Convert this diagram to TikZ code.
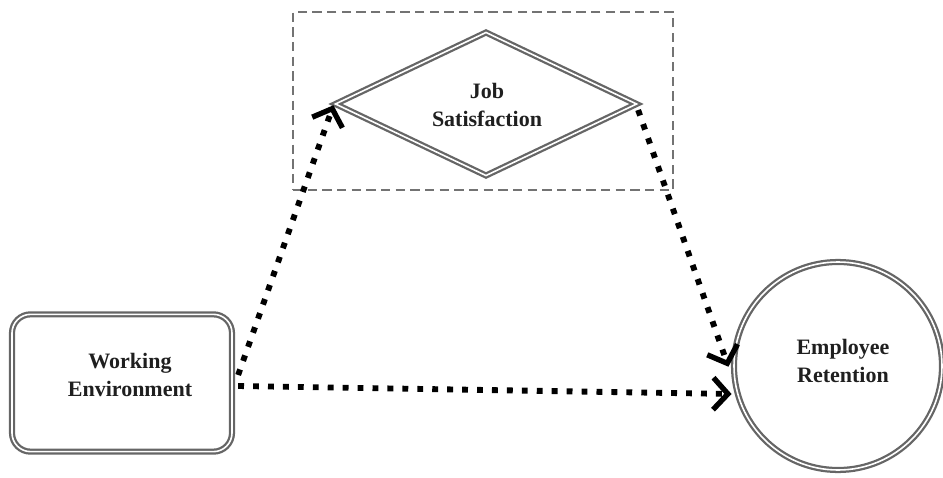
\documentclass[tikz,border=0pt]{standalone}
\usepackage{fontspec}
\setmainfont{Liberation Serif}
\usetikzlibrary{shapes.geometric,arrows.meta,calc}
\begin{document}
\begin{tikzpicture}[x=0.75pt,y=-0.75pt,
  dbl/.style={draw=black!60, line width=1.7pt, double=white, double distance=1.2pt},
  lbl/.style={font=\fontsize{16.5}{21.5}\selectfont\bfseries, align=center, text=black!88},
  flow/.style={line width=4.4pt, dash pattern=on 4.4pt off 6.8pt, black,
    -{Straight Barb[length=11pt,width=24pt,line width=4pt]}, shorten >=1pt},
  frame/.style={draw=black!55, line width=1.8pt, dash pattern=on 7pt off 4pt}]
\useasboundingbox (0,0) rectangle (943,478);
\node[frame, minimum width=285pt, minimum height=133.5pt, inner sep=0] (box) at (483,101) {};
\node[dbl, diamond, minimum width=226.5pt, minimum height=108pt, inner sep=0, aspect=2.1] (js) at (486,104) {};
\node[lbl] at (487,105) {Job\\Satisfaction};
\node[dbl, rounded corners=14pt, minimum width=165pt, minimum height=103pt] (we) at (122,383) {};
\node[lbl] at (130,375) {Working\\Environment};
\node[dbl, circle, minimum size=156pt, inner sep=0] (er) at (838,366) {};
\node[lbl] at (843,361) {Employee\\Retention};
\coordinate (s1) at ($(we.east)+(5,-8)$);
\coordinate (s3) at ($(we.east)+(5,3)$);
\coordinate (t3) at ($(er.west)+(0,28)$);
\coordinate (t2) at ($(er.west)+(-4,2)$);
\draw[flow] (s1) -- (js.west);
\draw[flow] ($(js.east)+(0,6)$) -- (t2);
\draw[flow] (s3) -- (t3);
\end{tikzpicture}
\end{document}
